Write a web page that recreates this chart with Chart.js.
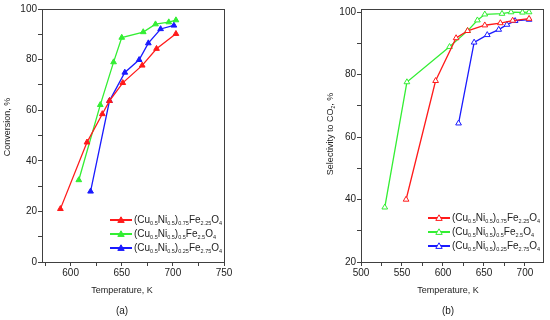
<!DOCTYPE html>
<html>
<head>
<meta charset="utf-8">
<script src="https://cdn.jsdelivr.net/npm/chart.js@4/dist/chart.umd.min.js"></script>
<style>
  html, body { margin: 0; padding: 0; background: #fff; }
  #wrap { position: relative; width: 550px; height: 320px; }
  #wrap canvas { position: absolute; top: 0; }
  #chartA { left: 0; }
  #chartB { left: 275px; }
</style>
</head>
<body>
<div id="wrap">
  <canvas id="chartA" width="275" height="320"></canvas>
  <canvas id="chartB" width="275" height="320"></canvas>
</div>
<script>
// ---- data (a) conversion ----
const convTempRed = [590, 616, 631, 638, 651, 670, 684, 703];
const convRed = [21, 47.3, 58.5, 63.7, 70.8, 77.7, 84.3, 90.2];
const convTempGreen = [608, 629, 642, 650, 671, 683, 696, 703];
const convGreen = [32.4, 62.1, 79, 88.7, 90.9, 94, 94.8, 95.6];
const convTempBlue = [619.5, 638, 653, 667, 676, 688, 701];
const convBlue = [27.9, 63.7, 74.9, 79.9, 86.5, 92.1, 93.5];

// ---- data (b) selectivity ----
const selTempRed = [555, 591, 616, 630, 651, 670, 685, 705];
const selRed = [40, 78, 91.7, 94, 95.8, 96.5, 97.3, 97.9];
const selTempGreen = [529, 556, 608, 630, 642, 651, 672, 683, 697, 705];
const selGreen = [37.5, 77.6, 88.9, 94.0, 97.4, 99.3, 99.5, 100, 99.9, 100];
const selTempBlue = [619, 638, 654, 668, 678, 688, 705];
const selBlue = [64.4, 90.3, 92.7, 94.4, 96, 97.2, 97.6];

// legend names, "_" = subscript
const seriesNames = [
    ['(Cu', '_0.5', 'Ni', '_0.5', ')', '_0.75', 'Fe', '_2.25', 'O', '_4'],
    ['(Cu', '_0.5', 'Ni', '_0.5', ')', '_0.5', 'Fe', '_2.5', 'O', '_4'],
    ['(Cu', '_0.5', 'Ni', '_0.5', ')', '_0.25', 'Fe', '_2.75', 'O', '_4']
];
const seriesColors = ['#ff1a1a', '#33ee33', '#1a1aff'];

const FONT = '"Liberation Sans", Arial, sans-serif';
const AXIS = '#404040';

function toPoints(xs, ys) {
    return xs.map((x, i) => ({ x, y: ys[i] }));
}

// rich text with subscripts, returns width
function drawRich(ctx, parts, x, y, size, measureOnly) {
    let cx = x;
    parts.forEach(p => {
        const sub = p.startsWith('_');
        const t = sub ? p.slice(1) : p;
        ctx.font = (sub ? size * 0.55 : size) + 'px ' + FONT;
        if (!measureOnly) ctx.fillText(t, cx, sub ? y + size * 0.3 : y);
        cx += ctx.measureText(t).width;
    });
    return cx - x;
}

const decorPlugin = {
    id: 'decor',
    afterDraw(chart, args, opts) {
        const ctx = chart.ctx;
        const a = chart.chartArea;
        ctx.save();
        // frame
        ctx.strokeStyle = AXIS;
        ctx.lineWidth = 1;
        ctx.strokeRect(Math.round(a.left) + 0.5, Math.round(a.top) + 0.5,
            Math.round(a.right - a.left), Math.round(a.bottom - a.top));

        // legend
        ctx.textBaseline = 'middle';
        ctx.fillStyle = '#222';
        chart.data.datasets.forEach((ds, i) => {
            const y = opts.legendY + i * 14;
            ctx.strokeStyle = ds.borderColor;
            ctx.lineWidth = 2;
            ctx.beginPath();
            ctx.moveTo(opts.legendX, y);
            ctx.lineTo(opts.legendX + 22, y);
            ctx.stroke();
            const r = 3.2, mx = opts.legendX + 11;
            ctx.beginPath();
            ctx.moveTo(mx, y - r);
            ctx.lineTo(mx + r, y + r * 0.75);
            ctx.lineTo(mx - r, y + r * 0.75);
            ctx.closePath();
            ctx.lineWidth = 1;
            ctx.fillStyle = ds.pointBackgroundColor;
            ctx.fill();
            ctx.stroke();
            ctx.fillStyle = '#222';
            drawRich(ctx, seriesNames[i], opts.legendX + 24, y, 10);
        });

        // axis titles + caption
        ctx.fillStyle = '#222';
        ctx.textBaseline = 'middle';
        const xw = drawRich(ctx, opts.xTitle, 0, 0, 9, true);
        drawRich(ctx, opts.xTitle, opts.xTitleX - xw / 2, 291, 9);
        ctx.save();
        ctx.translate(opts.yTitleX, opts.yTitleY);
        ctx.rotate(-Math.PI / 2);
        const yw = drawRich(ctx, opts.yTitle, 0, 0, 9, true);
        drawRich(ctx, opts.yTitle, -yw / 2, 0, 9);
        ctx.restore();
        const cw = drawRich(ctx, [opts.caption], 0, 0, 10, true);
        drawRich(ctx, [opts.caption], opts.xTitleX - cw / 2, 311, 10);
        ctx.restore();
    }
};

function makeDatasets(sets, filled) {
    return sets.map((pts, i) => ({
        label: seriesNames[i].join(''),
        data: pts,
        borderColor: seriesColors[i],
        backgroundColor: seriesColors[i],
        pointBackgroundColor: filled ? seriesColors[i] : '#ffffff',
        pointBorderColor: seriesColors[i],
        pointStyle: 'triangle',
        pointRadius: 3.3,
        pointBorderWidth: 1,
        borderWidth: 1.3,
        tension: 0
    }));
}

function axis(min, max, step, labelEvery, size) {
    return {
        type: 'linear',
        min, max,
        afterFit: s => {
            if (s.isHorizontal()) s.height = size; else s.width = size;
        },
        grid: { drawOnChartArea: false, drawTicks: true, tickLength: 4, color: AXIS, tickWidth: 1 },
        border: { color: AXIS, width: 1 },
        ticks: {
            stepSize: step,
            includeBounds: false,
            autoSkip: false,
            maxRotation: 0,
            padding: 1,
            color: '#222',
            font: { family: FONT, size: 10 },
            callback: v => (v % labelEvery === 0 ? v : '')
        }
    };
}

function baseOptions(pad, xAx, yAx, decor) {
    return {
        responsive: false,
        animation: false,
        layout: { padding: pad },
        scales: { x: xAx, y: yAx },
        plugins: {
            legend: { display: false },
            tooltip: { enabled: false },
            decor
        }
    };
}

new Chart(document.getElementById('chartA'), {
    type: 'line',
    data: {
        datasets: makeDatasets([
            toPoints(convTempRed, convRed),
            toPoints(convTempGreen, convGreen),
            toPoints(convTempBlue, convBlue)
        ], true)
    },
    options: baseOptions(
        { top: 9, right: 51, left: 0, bottom: 0 },
        axis(572, 750, 25, 50, 58),
        axis(0, 100, 10, 20, 42),
        {
            legendX: 110, legendY: 220,
            xTitle: ['Temperature, K'], xTitleX: 122,
            yTitle: ['Conversion, %'], yTitleX: 8, yTitleY: 127,
            caption: '(a)'
        }
    ),
    plugins: [decorPlugin]
});

new Chart(document.getElementById('chartB'), {
    type: 'line',
    data: {
        datasets: makeDatasets([
            toPoints(selTempRed, selRed),
            toPoints(selTempGreen, selGreen),
            toPoints(selTempBlue, selBlue)
        ], false)
    },
    options: baseOptions(
        { top: 9, right: 7, left: 0, bottom: 0 },
        axis(500, 722, 25, 50, 58),
        axis(20, 101, 10, 20, 86),
        {
            legendX: 153, legendY: 218,
            xTitle: ['Temperature, K'], xTitleX: 173,
            yTitle: ['Selectivity to CO', '_2', ', %'], yTitleX: 56, yTitleY: 134,
            caption: '(b)'
        }
    ),
    plugins: [decorPlugin]
});
</script>
</body>
</html>
